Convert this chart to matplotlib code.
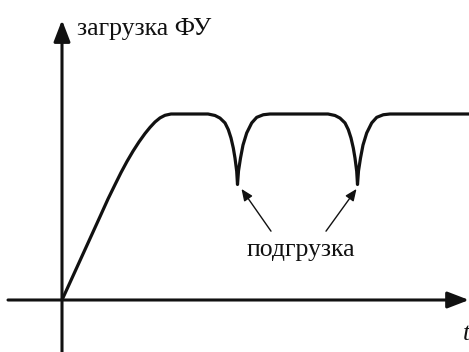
import matplotlib
matplotlib.use("Agg")
import matplotlib.pyplot as plt

# Curve: t (time, arbitrary units), load (plateau = 1)
rise_t = [0.0, 0.8, 1.8, 2.8, 3.8, 4.6, 5.3, 5.9, 6.5, 7.1, 7.7, 8.3, 8.8, 9.3, 9.8, 10.3, 10.9]
rise_load = [0.0, 0.094, 0.212, 0.330, 0.448, 0.543, 0.620, 0.685, 0.745, 0.800,
             0.850, 0.895, 0.928, 0.957, 0.979, 0.993, 1.0]

dip1_t = [14.6, 15.3, 15.8, 16.3, 16.63, 16.9, 17.13, 17.3, 17.47, 17.55,
          17.65, 17.85, 18.1, 18.47, 18.97, 19.47, 20.13, 20.8]
dip1_load = [1.0, 0.992, 0.978, 0.952, 0.916, 0.871, 0.817, 0.763, 0.692, 0.621,
             0.694, 0.763, 0.833, 0.898, 0.952, 0.982, 0.996, 1.0]

dip2_t = [26.6, 27.3, 27.8, 28.3, 28.63, 28.9, 29.13, 29.3, 29.47, 29.55,
          29.65, 29.85, 30.1, 30.47, 30.97, 31.47, 32.13, 32.8]
dip2_load = [1.0, 0.992, 0.978, 0.952, 0.916, 0.871, 0.817, 0.763, 0.692, 0.621,
             0.694, 0.763, 0.833, 0.898, 0.952, 0.982, 0.996, 1.0]

end_t = [40.7]
end_load = [1.0]

y_label = "загрузка ФУ"
x_label = "t"
note_label = "подгрузка"

t_all = rise_t + dip1_t + dip2_t + end_t
load_all = rise_load + dip1_load + dip2_load + end_load

fig = plt.figure(figsize=(4.69, 3.52), dpi=100)
ax = fig.add_axes([0, 0, 1, 1])
ax.set_xlim(-6.2, 40.7)
ax.set_ylim(-0.2796, 1.6129)
ax.axis("off")

serif = ["Liberation Serif", "DejaVu Serif"]
ink = "#111111"

# axes with arrows
ax.annotate("", xy=(0, 1.505), xytext=(0, -0.2796),
            arrowprops=dict(arrowstyle="-|>,head_length=1.3,head_width=0.5",
                            lw=2.2, color=ink, shrinkA=0, shrinkB=0))
ax.annotate("", xy=(40.7, 0), xytext=(-5.4, 0),
            arrowprops=dict(arrowstyle="-|>,head_length=1.3,head_width=0.5",
                            lw=2.2, color=ink, shrinkA=0, shrinkB=0))

# curve
ax.plot(t_all, load_all, color=ink, lw=2.3, solid_capstyle="butt",
        solid_joinstyle="round")

# pointer arrows
arrow_tips = [(17.95, 0.597), (29.45, 0.597)]
arrow_tails = [(20.9, 0.37), (26.4, 0.37)]
for tip, tail in zip(arrow_tips, arrow_tails):
    ax.annotate("", xy=tip, xytext=tail,
                arrowprops=dict(arrowstyle="-|>,head_length=0.7,head_width=0.3",
                                lw=1.0, color=ink, shrinkA=0, shrinkB=0))

ax.text(1.5, 1.425, y_label, family=serif, fontsize=18.5, ha="left",
        va="baseline", color=ink)
ax.text(23.9, 0.235, note_label, family=serif, fontsize=18.5, ha="center",
        va="baseline", color=ink)
ax.text(40.1, -0.215, x_label, family=serif, fontsize=18.5, style="italic",
        ha="left", va="baseline", color=ink)

fig.savefig("out.png", dpi=100)
